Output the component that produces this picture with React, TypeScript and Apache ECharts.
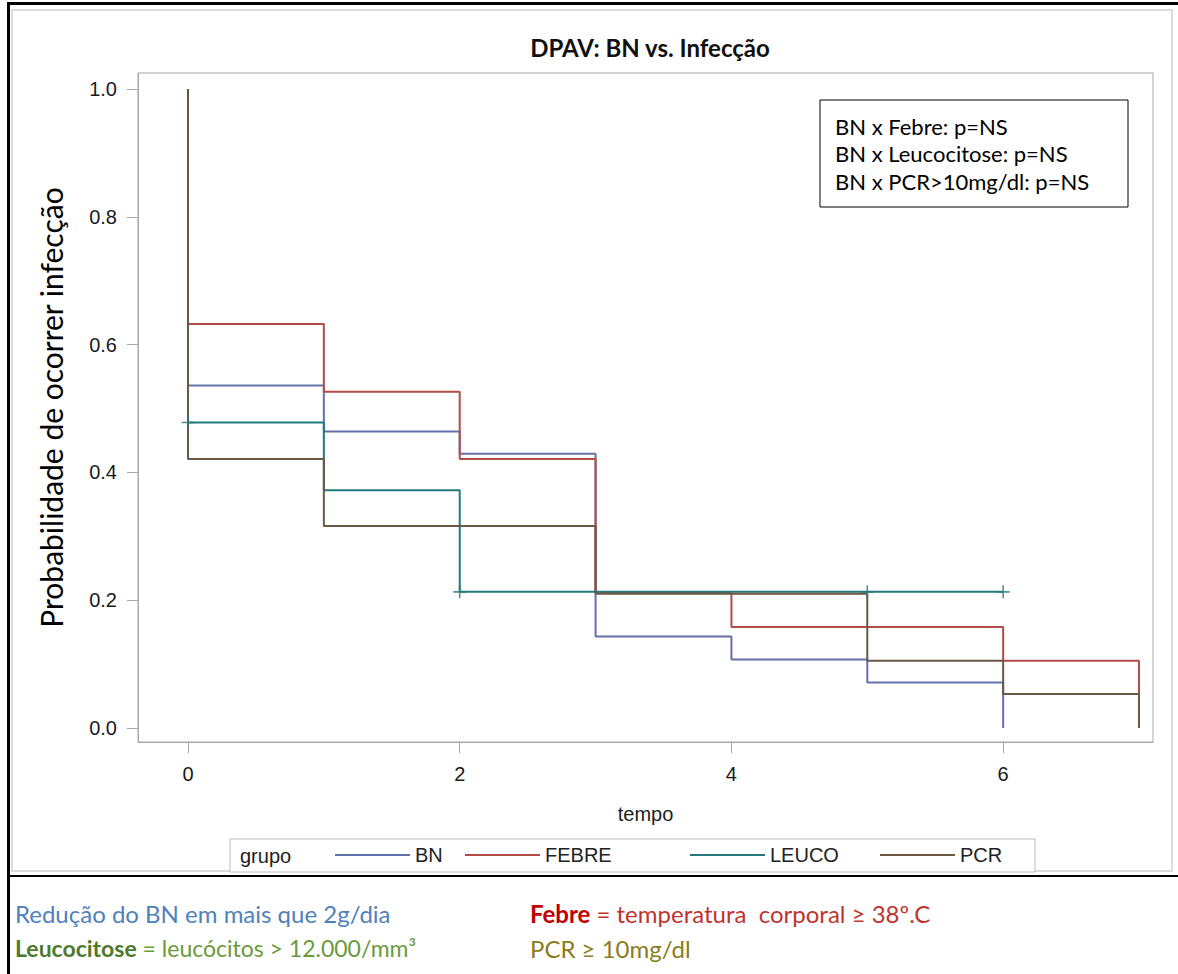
import React, { useEffect, useRef } from "react";
import * as echarts from "echarts";

// ---- data (Kaplan-Meier step curves) ----
const TIME_BN = [0, 0, 1, 2, 3, 4, 5, 6];
const SURV_BN = [1, 0.536, 0.464, 0.429, 0.143, 0.107, 0.071, 0];

const TIME_FEBRE = [0, 0, 1, 2, 3, 4, 6, 7];
const SURV_FEBRE = [1, 0.632, 0.526, 0.421, 0.211, 0.158, 0.105, 0];

const TIME_LEUCO = [0, 0, 1, 2, 6];
const SURV_LEUCO = [1, 0.478, 0.372, 0.213, 0.213];

const TIME_PCR = [0, 0, 1, 3, 5, 6, 7];
const SURV_PCR = [1, 0.421, 0.316, 0.21, 0.105, 0.053, 0];

const CENSOR_TIME_LEUCO = [0, 2, 5, 6];
const CENSOR_SURV_LEUCO = [0.478, 0.213, 0.213, 0.213];

const X_TICKS = [0, 2, 4, 6];
const Y_TICKS = [0, 0.2, 0.4, 0.6, 0.8, 1.0];

const GROUPS = ["BN", "FEBRE", "LEUCO", "PCR"];
const COLORS = ["#6670a8", "#b34c46", "#24787a", "#6b5843"];

const NOTE_LINES = [
  "BN x Febre: p=NS",
  "BN x Leucocitose: p=NS",
  "BN x PCR>10mg/dl: p=NS",
];

const zip = (a: number[], b: number[]) => a.map((v, i) => [v, b[i]]);

const AXF = "'Liberation Sans', Arial, sans-serif";
const CAL = "Lato, 'Open Sans', sans-serif";

export default function App() {
  const ref = useRef<HTMLDivElement>(null);
  useEffect(() => {
    if (!ref.current) return;
    const chart = echarts.init(ref.current, undefined, { renderer: "svg" });
    const lineSeries = [
      [TIME_BN, SURV_BN],
      [TIME_FEBRE, SURV_FEBRE],
      [TIME_LEUCO, SURV_LEUCO],
      [TIME_PCR, SURV_PCR],
    ].map(([t, s], i) => ({
      name: GROUPS[i],
      type: "line",
      step: "end",
      showSymbol: false,
      symbol: "none",
      color: COLORS[i],
      lineStyle: { width: 2, color: COLORS[i] },
      data: zip(t, s),
      z: 2 + i,
    }));
    const legendX = [335, 465, 690, 880];
    const option: any = {
      animation: false,
      title: {
        text: "DPAV: BN vs. Infecção",
        left: 645,
        top: 30,
        textAlign: "center",
        textStyle: { fontFamily: CAL, fontSize: 24, fontWeight: "bold", color: "#111" },
      },
      legend: GROUPS.map((g, i) => ({
        data: [g],
        left: legendX[i],
        top: 845,
        padding: 0,
        icon: "rect",
        itemWidth: 75,
        itemHeight: 2,
        itemGap: 5,
        textStyle: { fontFamily: AXF, fontSize: 20, color: "#222" },
        selectedMode: false,
      })),
      grid: {
        left: 138,
        top: 73,
        width: 1015,
        height: 669,
        show: true,
        borderColor: "#a8a8a8",
        borderWidth: 1,
      },
      xAxis: {
        type: "value",
        min: -0.368,
        max: 7.103,
        name: "tempo",
        nameLocation: "middle",
        nameGap: 62,
        nameTextStyle: { fontFamily: AXF, fontSize: 20, color: "#222" },
        axisLine: { show: true, onZero: false, lineStyle: { color: "#a8a8a8" } },
        axisTick: { show: true, customValues: X_TICKS, length: 11, lineStyle: { color: "#a8a8a8" } },
        axisLabel: {
          customValues: X_TICKS,
          margin: 22,
          fontFamily: AXF,
          fontSize: 20,
          color: "#1a1a1a",
        },
        splitLine: { show: false },
      },
      yAxis: {
        type: "value",
        min: -0.022,
        max: 1.025,
        name: "Probabilidade de ocorrer infecção",
        nameLocation: "middle",
        nameGap: 72,
        nameTextStyle: { fontFamily: CAL, fontSize: 30, color: "#000" },
        axisLine: { show: true, onZero: false, lineStyle: { color: "#a8a8a8" } },
        axisTick: { show: true, customValues: Y_TICKS, length: 11, lineStyle: { color: "#a8a8a8" } },
        axisLabel: {
          customValues: Y_TICKS,
          margin: 21,
          fontFamily: AXF,
          fontSize: 20,
          color: "#1a1a1a",
          formatter: (v: number) => v.toFixed(1),
        },
        splitLine: { show: false },
      },
      series: [
        ...lineSeries,
        {
          name: "LEUCO censurado",
          type: "scatter",
          symbol: "path://M6,0 L6,12 M0,6 L12,6",
          symbolSize: 13,
          itemStyle: { color: "none", borderColor: COLORS[2], borderWidth: 1.6 },
          data: zip(CENSOR_TIME_LEUCO, CENSOR_SURV_LEUCO),
          z: 10,
        },
      ],
      graphic: [
        // outer black frame
        { type: "rect", shape: { x: 7, y: 2, width: 1175, height: 3 }, style: { fill: "#000" }, silent: true },
        { type: "rect", shape: { x: 7, y: 2, width: 3, height: 972 }, style: { fill: "#000" }, silent: true },
        { type: "rect", shape: { x: 7, y: 875, width: 1175, height: 2 }, style: { fill: "#000" }, silent: true },
        // inner chart border
        {
          type: "rect",
          shape: { x: 12, y: 10, width: 1160, height: 861 },
          style: { fill: "none", stroke: "#cfcfcf", lineWidth: 1.5 },
          silent: true,
          z: -1,
        },
        // annotation box
        {
          type: "rect",
          shape: { x: 820, y: 100, width: 308, height: 107 },
          style: { fill: "#fff", stroke: "#000", lineWidth: 1 },
          z: 20,
        },
        ...NOTE_LINES.map((t, i) => ({
          type: "text",
          x: 835,
          y: 126 + i * 27.5,
          z: 21,
          style: { text: t, fontFamily: CAL, fontSize: 22, fill: "#000", textVerticalAlign: "middle" },
        })),
        // legend box
        {
          type: "rect",
          shape: { x: 230, y: 839, width: 805, height: 33 },
          style: { fill: "#fff", stroke: "#bdbdbd", lineWidth: 1 },
          z: -1,
        },
        {
          type: "text",
          x: 240,
          y: 856,
          style: { text: "grupo", fontFamily: AXF, fontSize: 20, fill: "#222", textVerticalAlign: "middle" },
        },
        // notes under the chart
        {
          type: "text",
          x: 15,
          y: 913,
          style: { text: "Redução do BN em mais que 2g/dia", fontFamily: CAL, fontSize: 24, fill: "#4f81bd", textVerticalAlign: "middle" },
        },
        {
          type: "text",
          x: 15,
          y: 948,
          style: {
            text: "{b|Leucocitose}{r| = leucócitos > 12.000/mm³}",
            textVerticalAlign: "middle",
            rich: {
              b: { fontFamily: CAL, fontSize: 23, fontWeight: "bold", fill: "#4e7a2c", color: "#4e7a2c" },
              r: { fontFamily: CAL, fontSize: 23, fill: "#6a9a3a", color: "#6a9a3a" },
            },
          },
        },
        {
          type: "text",
          x: 530,
          y: 913,
          style: {
            text: "{b|Febre}{r| = temperatura  corporal ≥ 38º.C}",
            textVerticalAlign: "middle",
            rich: {
              b: { fontFamily: CAL, fontSize: 24, fontWeight: "bold", fill: "#c00000", color: "#c00000" },
              r: { fontFamily: CAL, fontSize: 24, fill: "#c0332e", color: "#c0332e" },
            },
          },
        },
        {
          type: "text",
          x: 530,
          y: 948,
          style: { text: "PCR ≥ 10mg/dl", fontFamily: CAL, fontSize: 24, fill: "#8a7d20", textVerticalAlign: "middle" },
        },
      ],
    };
    chart.setOption(option);
    return () => chart.dispose();
  }, []);
  return (
    <div
      ref={ref}
      style={{ position: "absolute", left: 0, top: 0, width: 1178, height: 974, background: "#fff" }}
    />
  );
}
